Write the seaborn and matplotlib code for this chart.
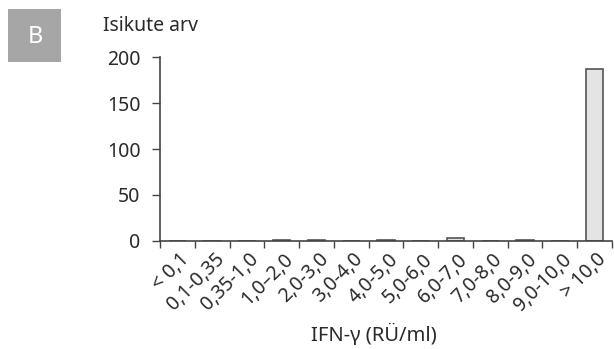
import matplotlib
matplotlib.use("Agg")
import matplotlib.pyplot as plt
import matplotlib.transforms as mtrans
import seaborn as sns
import pandas as pd
import numpy as np

categories = ["< 0,1", "0,1-0,35", "0,35-1,0", "1,0–2,0", "2,0-3,0", "3,0-4,0",
              "4,0-5,0", "5,0-6,0", "6,0-7,0", "7,0-8,0", "8,0-9,0", "9,0-10,0", "> 10,0"]
counts = [0, 0, 0, 1, 1, 0, 1, 0, 3, 0, 1, 0, 187]
yticks = [0, 50, 100, 150, 200]

sns.set_theme(style="ticks")
plt.rcParams["font.family"] = ["Noto Sans", "DejaVu Sans"]

df = pd.DataFrame({"cat": categories, "n": counts})
txt = "#2a2a2a"

fig = plt.figure(figsize=(6.14, 3.49), dpi=100)
ax = fig.add_axes([160/614, 108/349, 452/614, 184/349])

sns.barplot(data=df, x="cat", y="n", ax=ax, color="#e4e4e4", edgecolor="#555555",
            linewidth=1.2, width=0.5, saturation=1)

ax.set_ylim(0, 200)
ax.set_xlim(-0.5, len(categories) - 0.5)
ax.set_yticks(yticks)
ax.set_yticklabels([str(v) for v in yticks], fontsize=14, color=txt)

# boundaries as ticks, labels at centres
ax.set_xticks(np.arange(len(categories)))
ax.set_xticklabels(categories, rotation=45, ha="right", rotation_mode="anchor",
                   fontsize=14, color=txt)
ax.tick_params(axis="x", which="major", length=0, pad=6)
ax.set_xticks(np.arange(len(categories) + 1) - 0.5, minor=True)
ax.tick_params(axis="x", which="minor", length=5, width=1, color="#444444", direction="out")
ax.tick_params(axis="y", length=6, width=1, color="#444444", pad=8)
shift = mtrans.ScaledTranslation(2/100, 0, fig.dpi_scale_trans)
for lab in ax.get_xticklabels():
    lab.set_transform(lab.get_transform() + shift)

for s in ["top", "right"]:
    ax.spines[s].set_visible(False)
for s in ["left", "bottom"]:
    ax.spines[s].set_color("#444444")
    ax.spines[s].set_linewidth(1.2)

ax.set_xlabel("IFN-γ (RÜ/ml)", fontsize=14.5, color=txt, va="baseline")
ax.xaxis.set_label_coords((374 - 160) / 452, (241 - 341) / 184)
ax.set_ylabel("")
fig.text(103/614, 1 - 31/349, "Isikute arv", fontsize=14, color=txt, ha="left", va="baseline")

# panel letter
fig.patches.append(matplotlib.patches.Rectangle((8/614, 1 - 62/349), 53/614, 53/349,
                   transform=fig.transFigure, facecolor="#a6a6a6", edgecolor="none"))
fig.text(35/614, 1 - 37/349, "B", fontsize=17, color="white", ha="center", va="center",
         fontweight="light")

fig.savefig("out.png", dpi=100)
